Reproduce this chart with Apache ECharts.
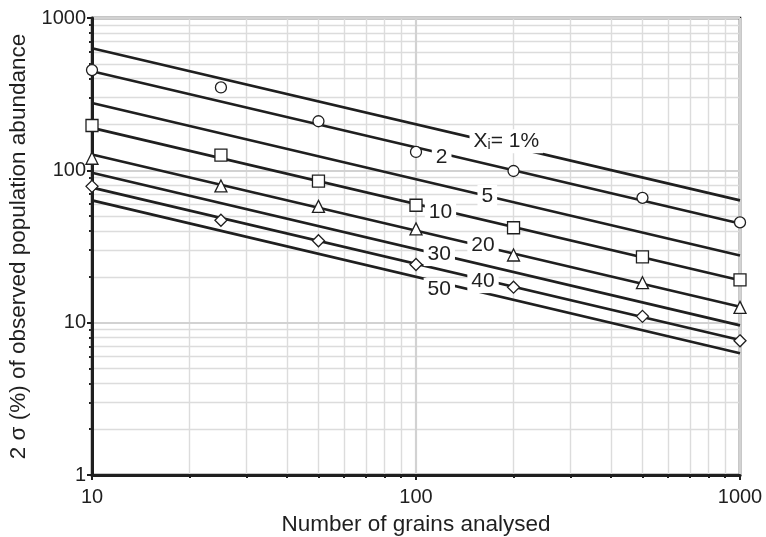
<!DOCTYPE html>
<html>
<head>
<meta charset="utf-8">
<script src="https://cdn.jsdelivr.net/npm/echarts@6/dist/echarts.min.js"></script>
<style>
  html, body { margin: 0; padding: 0; background: #fff; }
  #chart { width: 766px; height: 537px; }
</style>
</head>
<body>
<div id="chart"></div>
<script>
// grains counted (x) and 2 sigma (%)
const lineNames = ['1', '2', '5', '10', '20', '30', '40', '50'];
const lineEnds = [10, 1000];
const lineStart = [632, 447, 277, 190, 127, 96.5, 77, 63.5];
const lineStop = [63.5, 44.7, 27.6, 19.0, 12.7, 9.6, 7.7, 6.3];

const markN = [10, 25, 50, 100, 200, 500, 1000];
const circleVals = [455, 350, 210, 132, 99, 66, 45.5];
const squareVals = [197, 126, 85, 59, 42, 27, 19.1];
const triangleVals = [120, 79, 58, 41.3, 27.8, 18.3, 12.6];
const diamondVals = [78.5, 47, 34.5, 24.1, 17.1, 11.0, 7.6];

// curve labels, anchored on their lines
const labelText = ['{a|X}{s|i}{a|= 1%}', '2', '5', '10', '20', '30', '40', '50'];
const labelN = [190, 120, 166, 119, 161, 118, 161, 118];
const labelV = [155, 122, 67.5, 53, 32.1, 28.0, 18.6, 16.5];

// minor log ticks
const minorX = [20, 30, 40, 50, 60, 70, 80, 90, 200, 300, 400, 500, 600, 700, 800, 900];
const minorY = [2, 3, 4, 5, 6, 7, 8, 9, 20, 30, 40, 50, 60, 70, 80, 90, 200, 300, 400, 500, 600, 700, 800, 900];

const chart = echarts.init(document.getElementById('chart'));
const ink = '#1f1f1f';
const font = 'Liberation Sans, Arial, sans-serif';

const series = [];
lineNames.forEach(function (name, i) {
    series.push({
        name: 'X' + name,
        type: 'line',
        data: [[lineEnds[0], lineStart[i]], [lineEnds[1], lineStop[i]]],
        symbol: 'none',
        lineStyle: { color: ink, width: 2.6 },
        silent: true,
        z: 3
    });
});

function markSeries(symbol, vals, size) {
    return {
        type: 'scatter',
        data: markN.map(function (n, i) { return [n, vals[i]]; }),
        symbol: symbol,
        symbolSize: size,
        itemStyle: { color: '#fff', borderColor: ink, borderWidth: 1.3, opacity: 1 },
        z: 5
    };
}
series.push(markSeries('circle', circleVals, 11));
series.push(markSeries('rect', squareVals, 12));
series.push(markSeries('triangle', triangleVals, 12));
series.push(markSeries('diamond', diamondVals, 12));

series.push({
    type: 'scatter',
    data: labelN.map(function (n, i) { return { value: [n, labelV[i]], text: labelText[i] }; }),
    symbolSize: 0,
    itemStyle: { opacity: 1 },
    z: 6,
    label: {
        show: true,
        position: 'inside',
        formatter: function (p) { return p.data.text; },
        color: ink,
        fontFamily: font,
        fontSize: 21,
        backgroundColor: '#fff',
        padding: [1, 4, 1, 4],
        rich: {
            a: { fontFamily: font, fontSize: 21, color: ink, lineHeight: 22 },
            s: { fontFamily: font, fontSize: 14, color: ink, lineHeight: 22, verticalAlign: 'bottom', padding: [8, 0, 0, 0] }
        }
    }
});

function majorAxis(extra) {
    return Object.assign({
        type: 'log',
        logBase: 10,
        axisLine: { show: true, lineStyle: { color: ink, width: 3 } },
        axisTick: { show: true, length: 5, lineStyle: { color: ink, width: 2 } },
        splitLine: { show: true, lineStyle: { color: '#d2d2d2', width: 2.2 } },
        nameLocation: 'middle',
        nameTextStyle: { color: ink, fontFamily: font, fontSize: 22.5 },
        z: 2
    }, extra);
}

function minorAxis(extra, vals) {
    return Object.assign({
        type: 'log',
        logBase: 10,
        axisLine: { show: false },
        axisTick: { show: true, length: 3, customValues: vals, lineStyle: { color: ink, width: 2 } },
        splitLine: { show: true, lineStyle: { color: '#dcdcdc', width: 1.4 } },
        axisLabel: { show: false },
        z: 1
    }, extra);
}

const option = {
    animation: false,
    grid: {
        left: 92, right: 26, top: 18, bottom: 62,
        outerBoundsMode: 'none',
        containLabel: false,
        show: true, borderColor: ink, borderWidth: 2.5, backgroundColor: 'transparent'
    },
    xAxis: [
        majorAxis({
            min: 10, max: 1000, position: 'bottom',
            name: 'Number of grains analysed',
            nameGap: 38,
            axisLabel: { color: ink, fontFamily: font, fontSize: 20, margin: 12, formatter: function (v) { return String(v); } }
        }),
        minorAxis({ min: 10, max: 1000, position: 'bottom' }, minorX)
    ],
    yAxis: [
        majorAxis({
            min: 1, max: 1000, position: 'left',
            name: '2 σ (%) of observed population abundance',
            nameGap: 52,
            axisLabel: { color: ink, fontFamily: font, fontSize: 20, margin: 6, formatter: function (v) { return String(v); } }
        }),
        minorAxis({ min: 1, max: 1000, position: 'left' }, minorY)
    ],
    series: series
};

chart.setOption(option);
</script>
</body>
</html>
